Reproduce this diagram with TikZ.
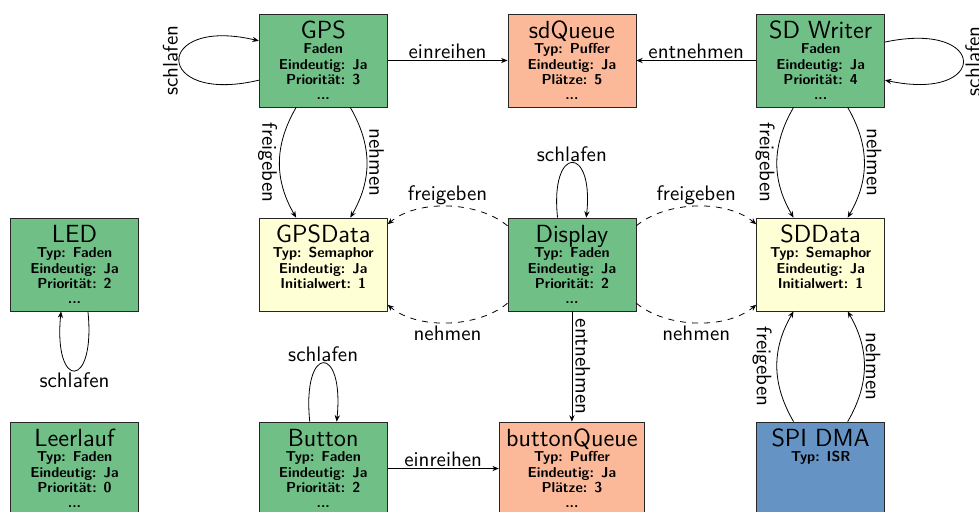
\documentclass[tikz,border=0pt]{standalone}
\usetikzlibrary{arrows.meta}
\definecolor{cgreen}{RGB}{111,191,135}
\definecolor{csalmon}{RGB}{251,185,153}
\definecolor{cyellow}{RGB}{255,255,214}
\definecolor{cblue}{RGB}{101,148,196}
\newdimen\pxu \pxu=0.5pt
\newcommand\blkrow[1]{\rule{0pt}{15.3\pxu}\smash{\fontsize{7.2}{8}\selectfont\bfseries #1}\cr}
\newcommand\blk[2]{\vbox to 93\pxu{\offinterlineskip\sffamily\halign{\hfil##\hfil\cr\rule{0pt}{24.5\pxu}\smash{\fontsize{12.4}{14}\selectfont #1}\cr #2}\vss}}
\begin{document}
\begin{tikzpicture}[x=0.5pt,y=-0.5pt,
  >={Stealth[length=3.2pt,width=2.6pt]},
  box/.style={draw=black!85, line width=0.4pt, inner xsep=3.5pt, inner ysep=0pt,
    minimum width=64pt, minimum height=46.5pt},
  thread/.style={box, fill=cgreen},
  queue/.style={box, fill=csalmon},
  sema/.style={box, fill=cyellow},
  isr/.style={box, fill=cblue},
  lbl/.style={font=\sffamily\fontsize{10.5}{12}\selectfont, inner sep=0.5pt},
  edge/.style={->, line width=0.4pt}]
\useasboundingbox (0,0) rectangle (979,511);

\node[thread] (GPS) at (323.2,60.5) {\blk{GPS}{\blkrow{Faden}\blkrow{Eindeutig: Ja}\blkrow{Priorität: 3}\blkrow{...}}};
\node[queue] (sdQueue) at (571.9,60.5) {\blk{sdQueue}{\blkrow{Typ: Puffer}\blkrow{Eindeutig: Ja}\blkrow{Plätze: 5}\blkrow{...}}};
\node[thread] (SDW) at (820.6,60.5) {\blk{SD Writer}{\blkrow{Faden}\blkrow{Eindeutig: Ja}\blkrow{Priorität: 4}\blkrow{...}}};
\node[thread] (LED) at (74.5,264.5) {\blk{LED}{\blkrow{Typ: Faden}\blkrow{Eindeutig: Ja}\blkrow{Priorität: 2}\blkrow{...}}};
\node[sema] (GPSData) at (323.2,264.5) {\blk{GPSData}{\blkrow{Typ: Semaphor}\blkrow{Eindeutig: Ja}\blkrow{Initialwert: 1}}};
\node[thread] (Display) at (571.9,264.5) {\blk{Display}{\blkrow{Typ: Faden}\blkrow{Eindeutig: Ja}\blkrow{Priorität: 2}\blkrow{...}}};
\node[sema] (SDData) at (820.6,264.5) {\blk{SDData}{\blkrow{Typ: Semaphor}\blkrow{Eindeutig: Ja}\blkrow{Initialwert: 1}}};
\node[thread] (Leerlauf) at (74.5,468.5) {\blk{Leerlauf}{\blkrow{Typ: Faden}\blkrow{Eindeutig: Ja}\blkrow{Priorität: 0}\blkrow{...}}};
\node[thread] (Button) at (323.2,468.5) {\blk{Button}{\blkrow{Typ: Faden}\blkrow{Eindeutig: Ja}\blkrow{Priorität: 2}\blkrow{...}}};
\node[queue] (buttonQueue) at (571.9,468.5) {\blk{buttonQueue}{\blkrow{Typ: Puffer}\blkrow{Eindeutig: Ja}\blkrow{Plätze: 3}\blkrow{...}}};
\node[isr] (SPI) at (820.6,468.5) {\blk{SPI DMA}{\blkrow{Typ: ISR}}};

% straight connectors
\draw[edge] (GPS) -- node[lbl,above] {einreihen} (sdQueue);
\draw[edge] (SDW) -- node[lbl,above] {entnehmen} (sdQueue);
\draw[edge] (Button) -- node[lbl,above] {einreihen} (buttonQueue);
\draw[edge] (Display) -- node[lbl,rotate=-90,anchor=south,inner sep=1.5pt] {entnehmen} (buttonQueue);

% self loops
\draw[edge] (GPS.197) .. controls +(-106,25) and +(-106,-25) .. (GPS.163)
  node[lbl,pos=.5,rotate=90,anchor=south] {schlafen};
\draw[edge] (SDW.16) .. controls +(104,-22) and +(104,22) .. (SDW.-17)
  node[lbl,pos=.5,rotate=90,anchor=north,inner sep=1pt] {schlafen};
\draw[edge] (Display.107) .. controls +(-8,-73) and +(8,-73) .. (Display.73)
  node[lbl,pos=.5,above] {schlafen};
\draw[edge] (Button.106) .. controls +(-8,-78) and +(8,-78) .. (Button.74)
  node[lbl,pos=.5,above] {schlafen};
\draw[edge] (LED.286) .. controls +(8,79) and +(-8,79) .. (LED.254)
  node[lbl,pos=.5,below,inner sep=1pt] {schlafen};

% semaphores
\draw[edge] (GPS.240) .. controls +(-22,38) and +(-22,-38) .. (GPSData.120)
  node[lbl,pos=.5,rotate=-90,anchor=north,inner sep=1pt] {freigeben};
\draw[edge] (GPS.300) .. controls +(22,38) and +(22,-38) .. (GPSData.60)
  node[lbl,pos=.5,rotate=-90,anchor=south,inner sep=1pt] {nehmen};
\draw[edge] (SDW.240) .. controls +(-22,38) and +(-22,-38) .. (SDData.120)
  node[lbl,pos=.5,rotate=-90,anchor=north,inner sep=1pt] {freigeben};
\draw[edge] (SDW.300) .. controls +(22,38) and +(22,-38) .. (SDData.60)
  node[lbl,pos=.5,rotate=-90,anchor=south,inner sep=1pt] {nehmen};
\draw[edge] (SPI.120) .. controls +(-22,-38) and +(-22,38) .. (SDData.240)
  node[lbl,pos=.5,rotate=-90,anchor=north,inner sep=2.5pt] {freigeben};
\draw[edge] (SPI.60) .. controls +(22,-38) and +(22,38) .. (SDData.300)
  node[lbl,pos=.5,rotate=-90,anchor=south] {nehmen};

% dashed
\draw[edge,dashed] (Display.149) .. controls +(-30,-25) and +(30,-25) .. (GPSData.32)
  node[lbl,pos=.5,above] {freigeben};
\draw[edge,dashed] (Display.211) .. controls +(-30,25) and +(30,25) .. (GPSData.328)
  node[lbl,pos=.5,below,inner sep=1.5pt] {nehmen};
\draw[edge,dashed] (Display.31) .. controls +(30,-25) and +(-30,-25) .. (SDData.148)
  node[lbl,pos=.5,above] {freigeben};
\draw[edge,dashed] (Display.329) .. controls +(30,25) and +(-30,25) .. (SDData.212)
  node[lbl,pos=.5,below,inner sep=1.5pt] {nehmen};
\end{tikzpicture}
\end{document}
